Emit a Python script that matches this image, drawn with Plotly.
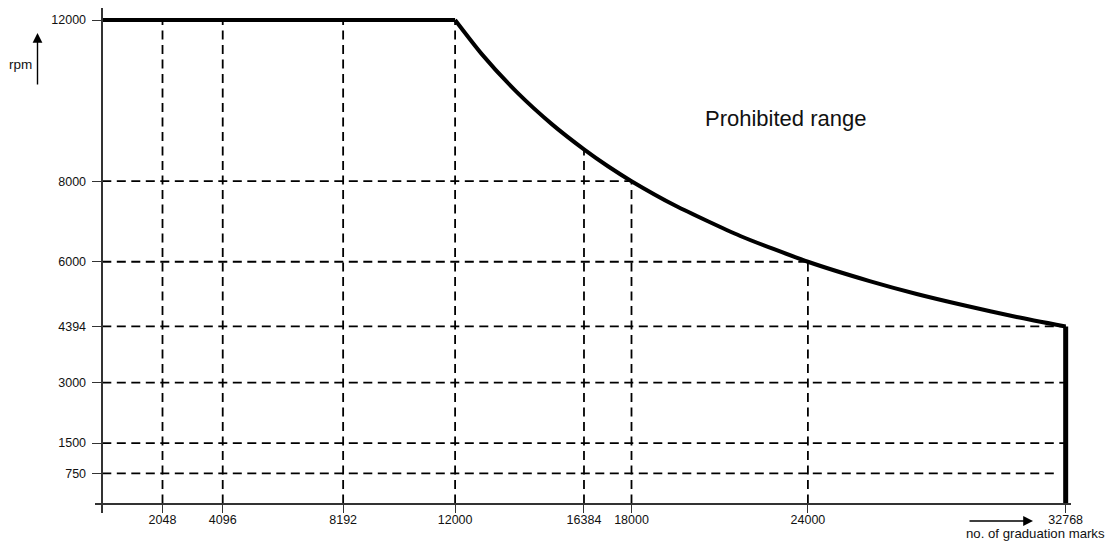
import plotly.graph_objects as go

# ---- data ----
flat_x = [0, 12000]
flat_y = [12000, 12000]

curve_x = [12000, 12900, 14100, 15300, 16384, 17200, 18000, 19500, 21700, 24000, 26100, 27700, 29300, 31100, 32768]
curve_y = [12000, 11160, 10210, 9410, 8790, 8370, 8000, 7390, 6640, 6000, 5520, 5200, 4920, 4630, 4394]

drop_x = [32768, 32768]
drop_y = [4394, 0]

vgrid_x = [2048, 4096, 8192, 12000, 16384, 18000, 24000]
vgrid_top = [12000, 12000, 12000, 12000, 8790, 8000, 6000]

hgrid_y = [8000, 6000, 4394, 3000, 1500, 750]
hgrid_end = [18000, 24000, 32768, 32768, 32768, 32550]

x_ticks = [2048, 4096, 8192, 12000, 16384, 18000, 24000, 32768]
y_ticks = [750, 1500, 3000, 4394, 6000, 8000, 12000]

W, H = 1111, 545
FONT = "Liberation Sans, Arial, sans-serif"
INK = "#111111"


def px(xw):
    return xw / W


def py(yw):
    return 1 - yw / H


# build dashed helper-line paths
gx, gy = [], []
for xv, top in zip(vgrid_x, vgrid_top):
    gx += [xv, xv, None]
    gy += [0, top, None]
for yv, end in zip(hgrid_y, hgrid_end):
    gx += [0, end, None]
    gy += [yv, yv, None]

fig = go.Figure()
fig.add_trace(go.Scatter(x=gx, y=gy, mode="lines", connectgaps=False,
                         line=dict(color="#000000", width=1.8, dash="9px,5.5px"),
                         hoverinfo="skip", showlegend=False))
fig.add_trace(go.Scatter(x=flat_x, y=flat_y, mode="lines",
                         line=dict(color="#000000", width=4), showlegend=False))
fig.add_trace(go.Scatter(x=curve_x, y=curve_y, mode="lines",
                         line=dict(color="#000000", width=4, shape="spline", smoothing=0.6),
                         showlegend=False))
fig.add_trace(go.Scatter(x=drop_x, y=drop_y, mode="lines",
                         line=dict(color="#000000", width=5), showlegend=False))

# axis geometry in window pixels
x0_px = 102.3           # window x of value 0
px_per_unit_x = 0.0294
y0_px = 503.5           # window y of rpm 0
px_per_unit_y = 0.04029
xl, xr = 95, 1071
yt, yb = 8, 513

fig.update_layout(
    width=W, height=H, autosize=False,
    margin=dict(l=0, r=0, t=0, b=0, pad=0, autoexpand=False),
    paper_bgcolor="white", plot_bgcolor="white",
    hovermode=False,
    font=dict(family=FONT, size=12.5, color=INK),
    xaxis=dict(
        domain=[px(xl), px(xr)],
        range=[(xl - x0_px) / px_per_unit_x, (xr - x0_px) / px_per_unit_x],
        anchor="free", position=py(y0_px), automargin=False,
        showline=True, linecolor="#333333", linewidth=1.5,
        showgrid=False, zeroline=False,
        ticks="outside", ticklen=9, tickwidth=1.2, tickcolor="#333333",
        tickvals=x_ticks, ticktext=[str(v) for v in x_ticks],
        tickfont=dict(family=FONT, size=12.5, color=INK),
        ticklabelstandoff=-4,
    ),
    yaxis=dict(
        domain=[py(yb), py(yt)],
        range=[(y0_px - yb) / px_per_unit_y, (y0_px - yt) / px_per_unit_y],
        anchor="free", position=px(x0_px), automargin=False,
        showline=True, linecolor="#333333", linewidth=1.5,
        showgrid=False, zeroline=False,
        ticks="outside", ticklen=10, tickwidth=1.2, tickcolor="#333333",
        tickvals=y_ticks, ticktext=[str(v) for v in y_ticks],
        tickfont=dict(family=FONT, size=12.5, color=INK),
        ticklabelstandoff=3,
    ),
    showlegend=False,
)

# text and arrows
fig.add_annotation(xref="paper", yref="paper", x=px(703), y=py(118),
                   text="Prohibited range", showarrow=False,
                   xanchor="left", yanchor="middle",
                   font=dict(family=FONT, size=22, color=INK))
fig.add_annotation(xref="paper", yref="paper", x=px(20), y=py(65),
                   text="rpm", showarrow=False, xanchor="center", yanchor="middle",
                   font=dict(family=FONT, size=13.5, color=INK))
fig.add_annotation(xref="paper", yref="paper", x=px(37.5), y=py(33),
                   ax=0, ay=53, axref="pixel", ayref="pixel",
                   text="", showarrow=True, arrowhead=2, arrowsize=1.4,
                   arrowwidth=1.4, arrowcolor="#000000")
fig.add_annotation(xref="paper", yref="paper", x=px(1033), y=py(521),
                   ax=-65, ay=0, axref="pixel", ayref="pixel",
                   text="", showarrow=True, arrowhead=2, arrowsize=1.4,
                   arrowwidth=1.4, arrowcolor="#000000")
fig.add_annotation(xref="paper", yref="paper", x=px(1107), y=py(533),
                   text="no. of graduation marks", showarrow=False,
                   xanchor="right", yanchor="middle",
                   font=dict(family=FONT, size=13.2, color=INK))

# the page body's default 8px margin would push the 1111x545 figure past the window
fig.write_html(
    "out.html",
    config={"displayModeBar": False},
    post_script="document.body.style.margin='0';"
                "document.body.style.overflow='hidden';"
                "document.documentElement.style.overflow='hidden';",
)
